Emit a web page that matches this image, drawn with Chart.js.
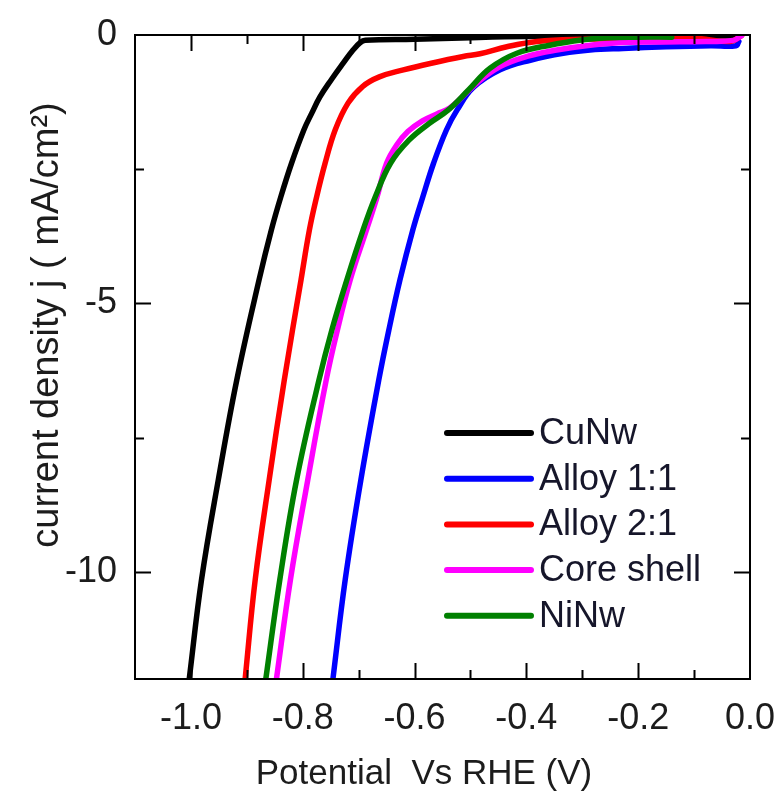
<!DOCTYPE html>
<html>
<head>
<meta charset="utf-8">
<script src="https://cdn.jsdelivr.net/npm/chart.js@4.4.1/dist/chart.umd.min.js"></script>
<style>
  html, body { margin: 0; padding: 0; background: #ffffff; }
  #wrap { width: 778px; height: 796px; }
</style>
</head>
<body>
<div id="wrap"><canvas id="c" width="778" height="796"></canvas></div>
<script>
// Polarisation curves: potential (V vs RHE) and current density (mA/cm²)
const seriesNames  = ['CuNw', 'Alloy 1:1', 'Alloy 2:1', 'Core shell', 'NiNw'];
const seriesColors = ['#000000', '#0000ff', '#ff0000', '#ff00ff', '#008000'];

const cuNwV = [-1.003, -0.981, -0.951, -0.918, -0.878, -0.856, -0.839, -0.820, -0.798, -0.784, -0.769, -0.748, -0.728, -0.710, -0.697, -0.688, -0.60, -0.50, -0.40, -0.20, -0.02];
const cuNwJ = [-12.0, -10.15, -8.29, -6.43, -4.56, -3.63, -3.01, -2.39, -1.77, -1.46, -1.15, -0.82, -0.53, -0.28, -0.14, -0.10, -0.08, -0.05, -0.03, -0.02, -0.02];

const alloy11V = [-0.746, -0.724, -0.696, -0.664, -0.646, -0.626, -0.603, -0.585, -0.566, -0.543, -0.524, -0.495, -0.447, -0.393, -0.334, -0.286, -0.227, -0.15, -0.07, -0.025, -0.02];
const alloy11J = [-12.0, -10.15, -8.29, -6.43, -5.50, -4.56, -3.63, -3.01, -2.39, -1.77, -1.40, -0.98, -0.65, -0.47, -0.34, -0.28, -0.25, -0.22, -0.20, -0.20, -0.12];

const alloy21V = [-0.903, -0.885, -0.860, -0.833, -0.803, -0.788, -0.775, -0.760, -0.742, -0.719, -0.693, -0.663, -0.620, -0.572, -0.513, -0.483, -0.435, -0.381, -0.30, -0.20, -0.10, -0.035, -0.015];
const alloy21J = [-12.0, -10.15, -8.29, -6.43, -4.56, -3.63, -3.01, -2.39, -1.77, -1.27, -0.96, -0.78, -0.65, -0.53, -0.40, -0.35, -0.22, -0.12, -0.08, -0.07, -0.06, -0.12, -0.01];

const coreShellV = [-0.847, -0.822, -0.791, -0.758, -0.738, -0.715, -0.686, -0.668, -0.650, -0.632, -0.612, -0.586, -0.560, -0.537, -0.489, -0.447, -0.399, -0.346, -0.286, -0.227, -0.15, -0.08, -0.03, -0.015];
const coreShellJ = [-12.0, -10.15, -8.29, -6.43, -5.50, -4.56, -3.63, -3.05, -2.39, -2.05, -1.80, -1.60, -1.47, -1.36, -0.90, -0.59, -0.40, -0.28, -0.19, -0.14, -0.13, -0.12, -0.10, -0.01];

const niNwV = [-0.866, -0.841, -0.811, -0.771, -0.748, -0.721, -0.692, -0.670, -0.643, -0.610, -0.574, -0.540, -0.504, -0.465, -0.417, -0.358, -0.298, -0.256, -0.20, -0.14];
const niNwJ = [-12.0, -10.15, -8.29, -6.43, -5.50, -4.56, -3.63, -3.01, -2.39, -1.96, -1.65, -1.40, -1.03, -0.62, -0.34, -0.19, -0.09, -0.05, -0.04, -0.04];

const potentials = [cuNwV, alloy11V, alloy21V, coreShellV, niNwV];
const currents   = [cuNwJ, alloy11J, alloy21J, coreShellJ, niNwJ];

// axis ticks
const xTickValues  = [-1.0, -0.8, -0.6, -0.4, -0.2, 0.0];
const xMinorValues = [-1.0, -0.9, -0.8, -0.7, -0.6, -0.5, -0.4, -0.3, -0.2, -0.1];
const xMajorMarks  = [-1.0, -0.8, -0.6, -0.4, -0.2];
const yTickValues  = [0, -5, -10];
const yMinorValues = [-2.5, -7.5];
const yMajorMarks  = [-5, -10];

const xTitle = 'Potential  Vs RHE (V)';
const yTitle = 'current density j ( mA/cm\u00B2)';

const FONT = "'Liberation Sans', Arial, sans-serif";
const TEXT_COLOR = '#1c1c1c';

const datasets = seriesNames.map((name, i) => ({
  label: name,
  data: potentials[i].map((v, k) => ({ x: v, y: currents[i][k] })),
  borderColor: seriesColors[i],
  backgroundColor: seriesColors[i],
  borderWidth: 5.5,
  pointRadius: 0,
  fill: false,
  tension: 0.4,
  borderCapStyle: 'round',
  borderJoinStyle: 'round',
  clip: 0,
  order: seriesNames.length - i
}));

// inward tick marks on all four sides, plus the frame
const frameTicks = {
  id: 'frameTicks',
  afterDatasetsDraw(chart) {
    const { ctx, chartArea: a, scales: { x, y } } = chart;
    ctx.save();
    ctx.strokeStyle = '#000';
    ctx.lineWidth = 2;
    const major = 16, minor = 9;
    xMinorValues.forEach(v => {
      const px = Math.round(x.getPixelForValue(v)) + 0.5;
      const len = xMajorMarks.some(m => Math.abs(m - v) < 1e-6) ? major : minor;
      ctx.beginPath();
      ctx.moveTo(px, a.bottom); ctx.lineTo(px, a.bottom - len);
      ctx.moveTo(px, a.top); ctx.lineTo(px, a.top + len);
      ctx.stroke();
    });
    yMinorValues.concat(yMajorMarks).forEach(v => {
      const py = Math.round(y.getPixelForValue(v)) + 0.5;
      const len = yMajorMarks.includes(v) ? major : minor;
      ctx.beginPath();
      ctx.moveTo(a.left, py); ctx.lineTo(a.left + len, py);
      ctx.moveTo(a.right, py); ctx.lineTo(a.right - len, py);
      ctx.stroke();
    });
    ctx.strokeRect(a.left, a.top, a.right - a.left, a.bottom - a.top);
    ctx.restore();
  }
};

// legend drawn inside the plot area, lower right
const insideLegend = {
  id: 'insideLegend',
  afterDatasetsDraw(chart) {
    const { ctx } = chart;
    ctx.save();
    ctx.font = '36px ' + FONT;
    ctx.textBaseline = 'middle';
    ctx.textAlign = 'left';
    seriesNames.forEach((name, i) => {
      const yy = 433 + i * 45.7;
      ctx.strokeStyle = seriesColors[i];
      ctx.lineWidth = 6;
      ctx.lineCap = 'round';
      ctx.beginPath();
      ctx.moveTo(447, yy); ctx.lineTo(531, yy);
      ctx.stroke();
      ctx.fillStyle = '#16162a';
      ctx.fillText(name, 539, yy + 1);
    });
    ctx.restore();
  }
};

// axis titles
const axisTitles = {
  id: 'axisTitles',
  afterDraw(chart) {
    const { ctx } = chart;
    ctx.save();
    ctx.fillStyle = TEXT_COLOR;
    ctx.font = '35px ' + FONT;
    ctx.textAlign = 'center';
    ctx.textBaseline = 'alphabetic';
    ctx.fillText(xTitle, 424, 784);
    ctx.translate(58, 325);
    ctx.rotate(-Math.PI / 2);
    ctx.font = '38px ' + FONT;
    ctx.fillText(yTitle, 0, 0);
    ctx.restore();
  }
};

new Chart(document.getElementById('c'), {
  type: 'line',
  data: { datasets },
  options: {
    responsive: false,
    devicePixelRatio: 1,
    animation: false,
    layout: { padding: { top: 35, right: 28, left: 0, bottom: 0 } },
    plugins: { legend: { display: false }, tooltip: { enabled: false } },
    scales: {
      x: {
        type: 'linear',
        min: -1.1,
        max: 0.0,
        afterBuildTicks: s => { s.ticks = xTickValues.map(v => ({ value: v })); },
        afterFit: s => { s.height = 117; s.paddingLeft = 0; s.paddingRight = 0; },
        grid: { display: false, drawTicks: false },
        border: { display: false },
        ticks: {
          padding: 18,
          color: TEXT_COLOR,
          font: { family: FONT, size: 36 },
          maxRotation: 0,
          autoSkip: false,
          callback: v => v.toFixed(1)
        }
      },
      y: {
        type: 'linear',
        min: -12,
        max: 0,
        afterBuildTicks: s => { s.ticks = yTickValues.map(v => ({ value: v })); },
        afterFit: s => { s.width = 135; s.paddingTop = 0; s.paddingBottom = 0; },
        grid: { display: false, drawTicks: false },
        border: { display: false },
        ticks: {
          padding: 18,
          color: TEXT_COLOR,
          font: { family: FONT, size: 36 },
          autoSkip: false,
          callback: v => String(v)
        }
      }
    }
  },
  plugins: [frameTicks, insideLegend, axisTitles]
});
</script>
</body>
</html>
